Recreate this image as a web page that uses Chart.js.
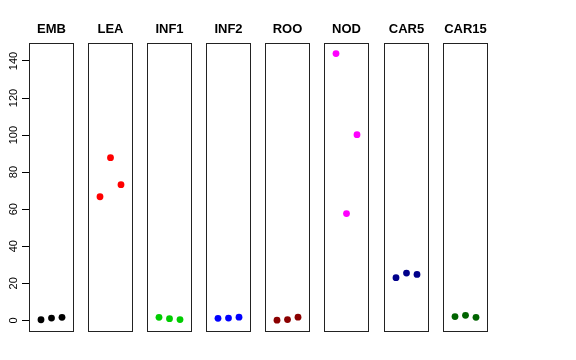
<!DOCTYPE html>
<html lang="en">
<head>
    <meta charset="UTF-8">
    <title>Panels</title>
    <style>
        body { margin: 0; background: #fff; }
        #wrap { position: relative; width: 576px; height: 360px; overflow: hidden; }
        #wrap canvas { position: absolute; top: 0; }
    </style>
</head>
<body>

<div id="wrap"></div>

<script src="https://cdn.jsdelivr.net/npm/chart.js"></script>

<script>
    // data
    const panels = ['EMB', 'LEA', 'INF1', 'INF2', 'ROO', 'NOD', 'CAR5', 'CAR15']
    const embValues = [0.3, 1.2, 1.6]
    const leaValues = [66.7, 87.8, 73.2]
    const inf1Values = [1.6, 0.9, 0.4]
    const inf2Values = [1.1, 1.2, 1.7]
    const rooValues = [0.1, 0.4, 1.7]
    const nodValues = [144.0, 57.6, 100.2]
    const car5Values = [23.0, 25.5, 24.8]
    const car15Values = [2.0, 2.7, 1.6]
    const yTicks = [0, 20, 40, 60, 80, 100, 120, 140]

    const allValues = [embValues, leaValues, inf1Values, inf2Values, rooValues, nodValues, car5Values, car15Values]
    const colors = ['#000000', '#FF0000', '#00CD00', '#0000FF', '#8B0000', '#FF00FF', '#00008B', '#006400']

    const lefts = [29, 88, 147, 206, 265, 324, 384, 443]
    const boxWidth = 45
    const axisWidth = 29

    Chart.defaults.font.family = "'Liberation Sans', Arial, sans-serif"

    const boxPlugin = {
        id: 'box',
        afterDatasetsDraw(chart) {
            const a = chart.chartArea
            const c = chart.ctx
            c.save()
            c.strokeStyle = '#222'
            c.lineWidth = 1
            c.strokeRect(a.left + 0.5, a.top + 0.5, a.right - a.left - 1, a.bottom - a.top - 1)
            c.restore()
        }
    }

    const yLabelPlugin = {
        id: 'ylabels',
        afterDraw(chart) {
            const y = chart.scales.y
            if (!y.options.display) return
            const c = chart.ctx
            c.save()
            c.fillStyle = '#000'
            c.font = "11px 'Liberation Sans', Arial, sans-serif"
            c.textAlign = 'center'
            c.textBaseline = 'alphabetic'
            yTicks.forEach((v) => {
                c.save()
                c.translate(16.5, y.getPixelForValue(v))
                c.rotate(-Math.PI / 2)
                c.fillText(String(v), 0, 0)
                c.restore()
            })
            c.restore()
        }
    }

    const wrap = document.getElementById('wrap')

    panels.forEach((name, i) => {
        const first = i === 0
        const canvas = document.createElement('canvas')
        canvas.width = first ? boxWidth + axisWidth : boxWidth
        canvas.height = 332
        canvas.style.left = (first ? lefts[i] - axisWidth : lefts[i]) + 'px'
        wrap.append(canvas)

        new Chart(canvas, {
            type: 'scatter',
            data: {
                datasets: [{
                    data: allValues[i].map((v, k) => ({ x: k + 1, y: v })),
                    backgroundColor: colors[i],
                    borderColor: colors[i],
                    borderWidth: 0,
                    pointRadius: 3.4,
                    pointHoverRadius: 3.4
                }]
            },
            options: {
                responsive: false,
                animation: false,
                events: [],
                layout: { padding: 0, autoPadding: false },
                plugins: {
                    legend: { display: false },
                    tooltip: { enabled: false },
                    title: {
                        display: true,
                        text: name,
                        fullSize: false,
                        color: '#000',
                        font: { size: 13, weight: 'bold', lineHeight: 1.2 },
                        padding: { top: 22, bottom: 5.4 }
                    }
                },
                scales: {
                    x: {
                        type: 'linear',
                        display: false,
                        min: -0.143,
                        max: 4.143
                    },
                    y: {
                        type: 'linear',
                        display: first,
                        min: -6.3,
                        max: 149.7,
                        afterFit(scale) { if (first) scale.width = axisWidth },
                        afterBuildTicks(scale) { scale.ticks = yTicks.map((v) => ({ value: v })) },
                        border: { display: false },
                        grid: {
                            drawOnChartArea: false,
                            drawTicks: true,
                            tickLength: 7,
                            color: '#000',
                            lineWidth: 1
                        },
                        ticks: { display: false }
                    }
                }
            },
            plugins: [boxPlugin, yLabelPlugin]
        })
    })
</script>
</body>
</html>
